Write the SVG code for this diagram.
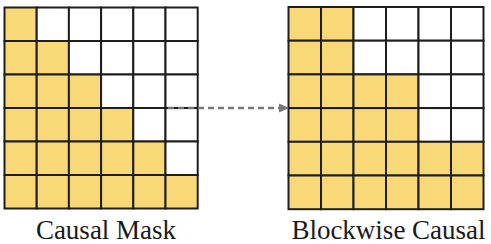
<svg xmlns="http://www.w3.org/2000/svg" width="491" height="244" viewBox="0 0 491 244">
<style>
.y{fill:#F9D977;stroke:#1e1e1e;stroke-width:2}
.w{fill:#FFFFFF;stroke:#1e1e1e;stroke-width:2}
.lbl{font-family:"Liberation Serif","Times New Roman",serif;font-size:27px;fill:#1a1a1a;text-anchor:middle}
.conn{stroke:#777777;stroke-width:2.5;stroke-dasharray:6 4;fill:none}
.head{fill:#777777}
</style>
<rect width="491" height="244" fill="#FFFFFF"/>
<g id="causal-mask">
<g transform="translate(4.5,7.5)">
<rect class="y" x="0" y="0" width="32.2" height="33.5"/>
<rect class="w" x="32.2" y="0" width="32.2" height="33.5"/>
<rect class="w" x="64.4" y="0" width="32.2" height="33.5"/>
<rect class="w" x="96.6" y="0" width="32.2" height="33.5"/>
<rect class="w" x="128.8" y="0" width="32.2" height="33.5"/>
<rect class="w" x="161" y="0" width="32.2" height="33.5"/>
<rect class="y" x="0" y="33.5" width="32.2" height="33.5"/>
<rect class="y" x="32.2" y="33.5" width="32.2" height="33.5"/>
<rect class="w" x="64.4" y="33.5" width="32.2" height="33.5"/>
<rect class="w" x="96.6" y="33.5" width="32.2" height="33.5"/>
<rect class="w" x="128.8" y="33.5" width="32.2" height="33.5"/>
<rect class="w" x="161" y="33.5" width="32.2" height="33.5"/>
<rect class="y" x="0" y="67" width="32.2" height="33.5"/>
<rect class="y" x="32.2" y="67" width="32.2" height="33.5"/>
<rect class="y" x="64.4" y="67" width="32.2" height="33.5"/>
<rect class="w" x="96.6" y="67" width="32.2" height="33.5"/>
<rect class="w" x="128.8" y="67" width="32.2" height="33.5"/>
<rect class="w" x="161" y="67" width="32.2" height="33.5"/>
<rect class="y" x="0" y="100.5" width="32.2" height="33.5"/>
<rect class="y" x="32.2" y="100.5" width="32.2" height="33.5"/>
<rect class="y" x="64.4" y="100.5" width="32.2" height="33.5"/>
<rect class="y" x="96.6" y="100.5" width="32.2" height="33.5"/>
<rect class="w" x="128.8" y="100.5" width="32.2" height="33.5"/>
<rect class="w" x="161" y="100.5" width="32.2" height="33.5"/>
<rect class="y" x="0" y="134" width="32.2" height="33.5"/>
<rect class="y" x="32.2" y="134" width="32.2" height="33.5"/>
<rect class="y" x="64.4" y="134" width="32.2" height="33.5"/>
<rect class="y" x="96.6" y="134" width="32.2" height="33.5"/>
<rect class="y" x="128.8" y="134" width="32.2" height="33.5"/>
<rect class="w" x="161" y="134" width="32.2" height="33.5"/>
<rect class="y" x="0" y="167.5" width="32.2" height="33.5"/>
<rect class="y" x="32.2" y="167.5" width="32.2" height="33.5"/>
<rect class="y" x="64.4" y="167.5" width="32.2" height="33.5"/>
<rect class="y" x="96.6" y="167.5" width="32.2" height="33.5"/>
<rect class="y" x="128.8" y="167.5" width="32.2" height="33.5"/>
<rect class="y" x="161" y="167.5" width="32.2" height="33.5"/>
</g>
<text class="lbl" x="106" y="239">Causal Mask</text>
</g>
<g id="blockwise-causal">
<g transform="translate(288.5,7)">
<rect class="y" x="0" y="0" width="32.5" height="33.7"/>
<rect class="y" x="32.5" y="0" width="32.5" height="33.7"/>
<rect class="w" x="65" y="0" width="32.5" height="33.7"/>
<rect class="w" x="97.5" y="0" width="32.5" height="33.7"/>
<rect class="w" x="130" y="0" width="32.5" height="33.7"/>
<rect class="w" x="162.5" y="0" width="32.5" height="33.7"/>
<rect class="y" x="0" y="33.7" width="32.5" height="33.7"/>
<rect class="y" x="32.5" y="33.7" width="32.5" height="33.7"/>
<rect class="w" x="65" y="33.7" width="32.5" height="33.7"/>
<rect class="w" x="97.5" y="33.7" width="32.5" height="33.7"/>
<rect class="w" x="130" y="33.7" width="32.5" height="33.7"/>
<rect class="w" x="162.5" y="33.7" width="32.5" height="33.7"/>
<rect class="y" x="0" y="67.4" width="32.5" height="33.7"/>
<rect class="y" x="32.5" y="67.4" width="32.5" height="33.7"/>
<rect class="y" x="65" y="67.4" width="32.5" height="33.7"/>
<rect class="y" x="97.5" y="67.4" width="32.5" height="33.7"/>
<rect class="w" x="130" y="67.4" width="32.5" height="33.7"/>
<rect class="w" x="162.5" y="67.4" width="32.5" height="33.7"/>
<rect class="y" x="0" y="101.1" width="32.5" height="33.7"/>
<rect class="y" x="32.5" y="101.1" width="32.5" height="33.7"/>
<rect class="y" x="65" y="101.1" width="32.5" height="33.7"/>
<rect class="y" x="97.5" y="101.1" width="32.5" height="33.7"/>
<rect class="w" x="130" y="101.1" width="32.5" height="33.7"/>
<rect class="w" x="162.5" y="101.1" width="32.5" height="33.7"/>
<rect class="y" x="0" y="134.8" width="32.5" height="33.7"/>
<rect class="y" x="32.5" y="134.8" width="32.5" height="33.7"/>
<rect class="y" x="65" y="134.8" width="32.5" height="33.7"/>
<rect class="y" x="97.5" y="134.8" width="32.5" height="33.7"/>
<rect class="y" x="130" y="134.8" width="32.5" height="33.7"/>
<rect class="y" x="162.5" y="134.8" width="32.5" height="33.7"/>
<rect class="y" x="0" y="168.5" width="32.5" height="33.7"/>
<rect class="y" x="32.5" y="168.5" width="32.5" height="33.7"/>
<rect class="y" x="65" y="168.5" width="32.5" height="33.7"/>
<rect class="y" x="97.5" y="168.5" width="32.5" height="33.7"/>
<rect class="y" x="130" y="168.5" width="32.5" height="33.7"/>
<rect class="y" x="162.5" y="168.5" width="32.5" height="33.7"/>
</g>
<text class="lbl" x="388.5" y="239">Blockwise Causal</text>
</g>
<g id="connectors">
<line class="conn" x1="168" y1="108" x2="281" y2="108"/>
<polygon class="head" points="279,103.5 289,108 279,112.5"/>
</g>
</svg>
